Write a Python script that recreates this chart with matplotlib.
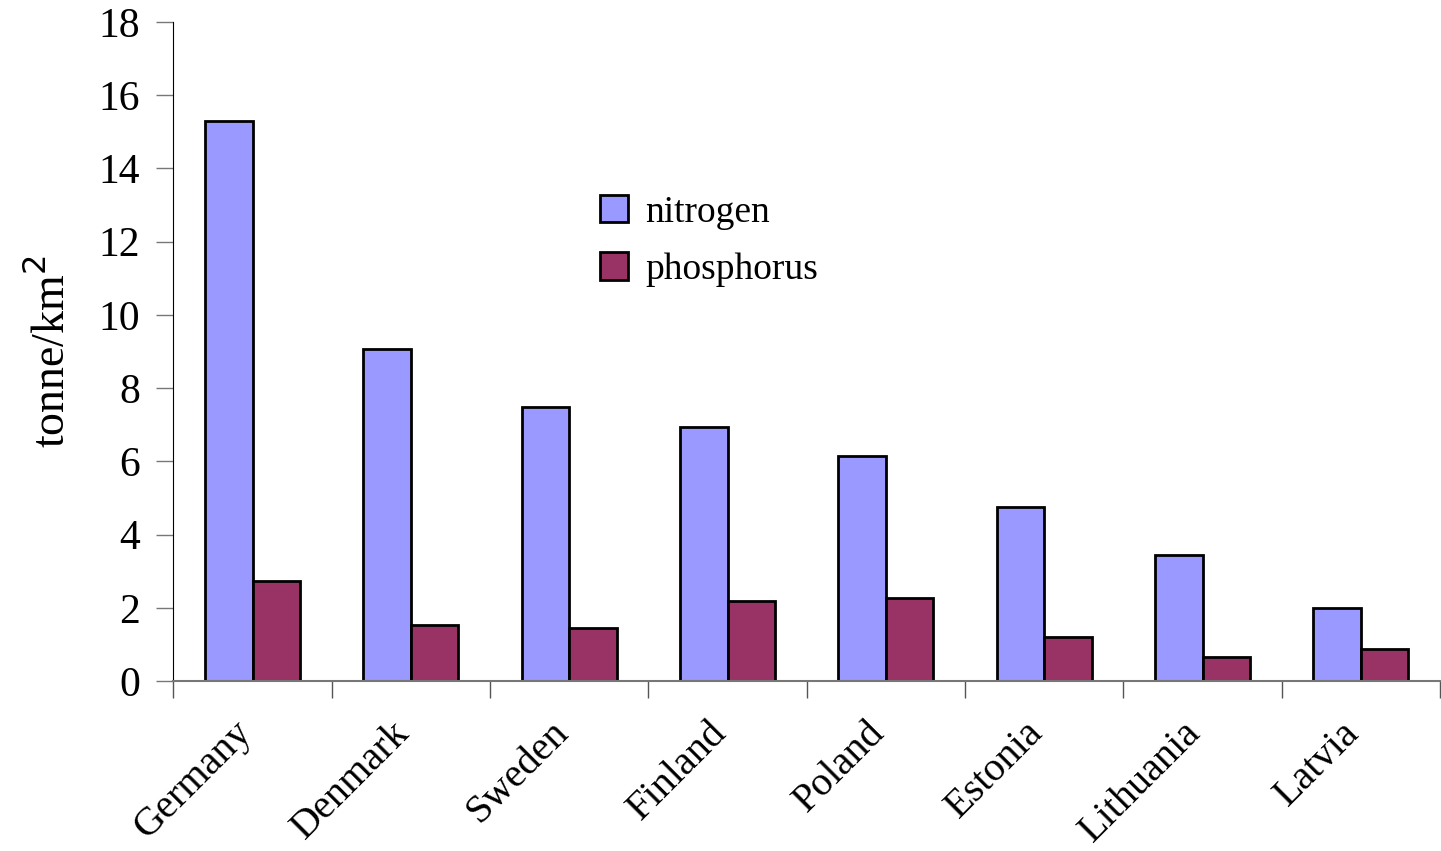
import matplotlib
matplotlib.use("Agg")
import matplotlib.pyplot as plt
import matplotlib.transforms as mtransforms
import numpy as np

countries = ["Germany", "Denmark", "Sweden", "Finland", "Poland", "Estonia", "Lithuania", "Latvia"]
nitrogen = [15.3, 9.07, 7.49, 6.95, 6.15, 4.76, 3.44, 1.99]
phosphorus = [2.73, 1.53, 1.46, 2.19, 2.27, 1.2, 0.66, 0.87]

plt.rcParams['font.family'] = ['Liberation Serif', 'DejaVu Serif']

fig = plt.figure(figsize=(14.41, 8.51), dpi=100)
ax = fig.add_axes([0.1204, 0.1998, 0.879, 0.7743])

x = np.arange(len(countries))
w = 0.3
ax.bar(x - w / 2, nitrogen, w, color='#9999FF', edgecolor='black', linewidth=2, label='nitrogen')
ax.bar(x + w / 2, phosphorus, w, color='#993366', edgecolor='black', linewidth=2, label='phosphorus')

ax.set_xlim(-0.5, len(countries) - 0.5)
ax.set_ylim(0, 18)
ax.set_yticks(range(0, 19, 2))
ax.tick_params(axis='y', labelsize=30, length=12, width=1, color='#777777', pad=12)

# ticks between categories, labels at centres
ax.set_xticks(np.arange(len(countries) + 1) - 0.5)
ax.set_xticklabels([])
ax.set_xticks(x, minor=True)
ax.set_xticklabels(countries, minor=True, rotation=45, ha='right', rotation_mode='anchor', fontsize=29)
ax.tick_params(axis='x', which='major', length=12, width=1, color='#555555', direction='out')
ax.tick_params(axis='x', which='minor', length=0, pad=24)
shift = mtransforms.ScaledTranslation(-20 / 100, 0, fig.dpi_scale_trans)
for lbl in ax.get_xticklabels(minor=True):
    lbl.set_transform(lbl.get_transform() + shift)

for s in ['top', 'right']:
    ax.spines[s].set_visible(False)
ax.spines['left'].set_color('black')
ax.spines['bottom'].set_color('#777777')
ax.spines['bottom'].set_linewidth(1.5)

ax.set_ylabel('tonne/km$^2$', fontsize=33, labelpad=18)

ax.legend(loc='center left', bbox_to_anchor=(0.31, 0.668), frameon=False, fontsize=27,
          handlelength=0.75, handleheight=0.75, handletextpad=0.45, labelspacing=0.6)

fig.savefig('out.png', dpi=100)
